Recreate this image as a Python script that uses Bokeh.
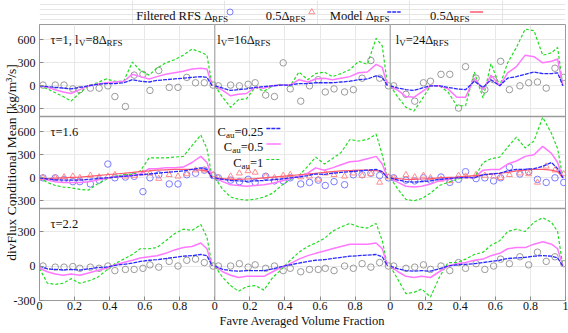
import math, json
from bokeh.plotting import figure
from bokeh.layouts import column
from bokeh.models import Range1d, FixedTicker, CustomJSTickFormatter, Span
from bokeh.core.properties import value
from bokeh.embed import file_html
from bokeh.resources import INLINE

# ---------------- data ----------------
x_line = [0.0, 0.045, 0.09, 0.135, 0.18, 0.23, 0.28, 0.33, 0.38, 0.43, 0.48, 0.53,
          0.575, 0.625, 0.67, 0.72, 0.77, 0.82, 0.87, 0.92, 0.955, 0.985]
x_pts = [0.02, 0.09, 0.14, 0.19, 0.23, 0.29, 0.34, 0.39, 0.43, 0.49,
         0.54, 0.59, 0.63, 0.68, 0.74, 0.79, 0.84, 0.89, 0.94, 0.99]

# row 0 : tau = 1
g00 = [0, -40, -90, -140, -200, -90, 0, 40, 90, 60, 60, 310, 200, 140, 230, 300, 340, 400, 480, 440, 400, 0]
m00 = [0, -20, -50, -80, -100, -50, 0, 20, 40, 50, 60, 150, 120, 90, 120, 150, 170, 190, 220, 230, 220, 0]
b00 = [0, -10, -20, -30, -40, -20, 0, 20, 30, 30, 40, 80, 60, 50, 70, 80, 90, 100, 110, 120, 110, 0]
c00 = [10, 10, 10, -40, -50, -30, -30, 0, -140, -270, 140, 150, -60, 200, -20, -20, 110, 40, 40, 10]

g01 = [0, -150, -280, -180, -170, -20, -70, 0, 20, 0, 180, 80, 160, 180, 120, 160, 210, 320, 280, 620, 520, 0]
m01 = [0, -60, -130, -110, -100, -20, -30, 0, 10, 10, 80, 50, 90, 100, 80, 100, 120, 170, 180, 280, 240, 0]
b01 = [0, -30, -60, -50, -40, -20, -10, 0, 10, 10, 30, 30, 40, 40, 40, 50, 60, 80, 90, 130, 110, 0]
c01 = [0, 10, 0, 20, 40, -120, -140, 300, -40, -200, 0, 80, -80, -40, -80, -50, 100, 330, 100, 0]

g02 = [0, -150, -280, -330, -180, 0, 0, -80, -260, -260, 180, -160, 290, 0, 300, 500, 740, 720, 400, 430, 500, 0]
m02 = [0, -60, -140, -150, -80, 0, 0, -40, -150, -150, 100, -50, 140, 0, 170, 250, 400, 380, 300, 320, 350, 0]
b02 = [0, -30, -50, -60, -30, 0, 0, -20, -40, -50, 60, -20, 80, 0, 100, 120, 150, 180, 160, 160, 170, 0]
c02 = [0, -110, -200, 40, 60, 150, 150, -290, 250, 100, -50, 80, 320, -50, 0, 40, 50, -30, 230, 110]

# row 1 : tau = 1.6
g10 = [0, -60, -100, -120, -130, -150, -160, -80, -20, 20, 40, 50, 90, 260, 260, 260, 270, 280, 420, 560, 380, 0]
m10 = [0, -30, -50, -60, -60, -60, -50, -30, -10, 10, 20, 30, 50, 120, 120, 130, 130, 140, 200, 280, 200, 0]
b10 = [0, -15, -25, -30, -30, -30, -20, -10, 0, 10, 20, 30, 40, 50, 60, 70, 80, 90, 110, 130, 110, 0]
r10 = [0, -10, -5, 0, 5, 10, 20, 30, 40, 50, 60, 70, 80, 90, 100, 105, 110, 110, 110, 100, 90, 0]
c10 = [0, 0, -20, -50, -50, -80, -30, 180, 0, 10, 20, -180, 0, 40, -80, -80, 40, 60, 100, 30]
t10 = [0, 0, 10, 20, 0, 30, 10, 20, 40, 20, 30, 60, 60, -10, 40, 20, 50, 100, 100, 40]

g11 = [0, -150, -250, -280, -290, -280, -250, -200, -100, -20, 30, 150, 270, 180, 250, 330, 500, 480, 500, 570, 300, 0]
m11 = [0, -50, -90, -100, -110, -100, -90, -70, -40, -10, 20, 60, 130, 100, 130, 170, 210, 220, 250, 280, 180, 0]
b11 = [0, -20, -35, -40, -45, -40, -35, -25, -15, 0, 10, 30, 50, 45, 60, 70, 80, 90, 100, 110, 80, 0]
r11 = [0, -10, -20, -20, -15, -10, 0, 10, 20, 30, 40, 50, 60, 70, 80, 90, 95, 100, 100, 95, 80, 0]
c11 = [0, -30, -50, -20, -60, 20, -40, -40, 0, -80, -60, -30, -100, -50, -90, 40, 40, 60, 30, 0]
t11 = [0, 20, 60, 90, 70, 20, 0, 30, 40, 10, 20, -20, 60, 40, 20, 60, 30, 50, -60, 10]

g12 = [0, -150, -280, -300, -270, -200, -100, -60, -20, 20, 0, 200, 250, 270, 400, 530, 390, 480, 790, 580, 380, 0]
m12 = [0, -60, -110, -120, -110, -80, -40, -20, 0, 10, 0, 100, 110, 110, 180, 220, 280, 300, 410, 320, 200, 0]
b12 = [0, -30, -50, -55, -50, -40, -20, -10, 0, 5, 0, 40, 50, 60, 90, 110, 110, 120, 150, 200, 120, 0]
r12 = [0, -10, -20, -20, -15, -10, 0, 5, 10, 20, 30, 40, 50, 60, 70, 90, 100, 110, 110, 100, 80, 0]
c12 = [0, -30, -40, 0, -30, 10, -60, -20, 80, -10, 0, -40, 0, 140, 50, 80, -20, -60, 0, -60]
t12 = [0, 40, 10, 30, 0, -20, -40, 30, 20, 40, 30, 20, 0, 40, 60, 50, -60, 150, 100, 50]

# row 2 : tau = 2.2
g20 = [-20, -150, -160, -150, -110, -150, -130, -100, -40, 20, 60, 100, 150, 150, 160, 220, 280, 320, 310, 360, 250, 0]
m20 = [-20, -50, -70, -80, -70, -80, -60, -40, -20, 10, 30, 50, 70, 80, 90, 110, 140, 160, 170, 200, 150, 0]
b20 = [0, -25, -30, -35, -30, -35, -25, -15, -10, 5, 15, 25, 40, 50, 55, 65, 75, 85, 90, 100, 90, 0]
c20 = [0, -10, -10, -5, -20, -10, -20, 0, -40, -30, -30, -20, 10, -10, 40, 0, 50, 60, 30, 0]

g21 = [0, -100, -170, -220, -180, -170, -210, -100, -30, 50, 120, 170, 200, 240, 300, 340, 370, 340, 330, 370, 220, 0]
m21 = [0, -50, -80, -100, -90, -90, -90, -50, -10, 20, 60, 90, 110, 130, 150, 170, 190, 190, 190, 200, 150, 0]
b21 = [0, -30, -40, -45, -40, -40, -40, -25, -5, 10, 25, 40, 50, 55, 65, 75, 85, 90, 95, 100, 80, 0]
c21 = [0, 0, 20, -10, 10, -20, 0, -40, -20, -50, -30, -30, -20, -40, 0, -20, 20, -10, 30, 0]

g22 = [0, -120, -240, -230, -200, -270, -100, 30, 30, 60, 100, 120, 180, 220, 300, 320, 300, 380, 420, 380, 300, 0]
m22 = [0, -50, -90, -100, -90, -100, -50, 0, 20, 30, 50, 60, 90, 110, 150, 160, 160, 190, 210, 190, 150, 0]
b22 = [0, -25, -40, -45, -40, -45, -25, 0, 10, 15, 20, 30, 40, 50, 65, 70, 75, 85, 90, 85, 70, 0]
c22 = [0, -20, -10, 10, -30, 0, -40, 30, -20, 20, -30, 0, 60, 20, 80, 10, 120, 40, 80, 20]

row_ranges = [(-400, 800), (-400, 800), (-300, 500)]
row_yticks = [[-300, 0, 300, 600], [-300, 0, 300, 600], [-300, 0, 300]]
x_ticks = [round(i * 0.2, 1) for i in range(16)]
x_tick_labels = ["0", "0.2", "0.4", "0.6", "0.8"] * 3 + ["1"]

panel_titles = {
    (0, 0): [("τ=1, l", 0), ("V", 1), ("=8Δ", 0), ("RFS", 1)],
    (0, 1): [("l", 0), ("V", 1), ("=16Δ", 0), ("RFS", 1)],
    (0, 2): [("l", 0), ("V", 1), ("=24Δ", 0), ("RFS", 1)],
    (1, 0): [("τ=1.6", 0)],
    (2, 0): [("τ=2.2", 0)],
}
cau_values = ["0.25", "0.5", "1"]
legend_items = [[("Filtered RFS Δ", 0), ("RFS", 1)], [("0.5Δ", 0), ("RFS", 1)],
                [("Model Δ", 0), ("RFS", 1)], [("0.5Δ", 0), ("RFS", 1)]]
y_title = "divFlux Conditional Mean [kg/m³/s]"
x_title = "Favre Averaged Volume Fraction"

panels = [
    [(g00, m00, b00, c00, None, None), (g01, m01, b01, c01, None, None), (g02, m02, b02, c02, None, None)],
    [(g10, m10, b10, c10, r10, t10), (g11, m11, b11, c11, r11, t11), (g12, m12, b12, c12, r12, t12)],
    [(g20, m20, b20, c20, None, None), (g21, m21, b21, c21, None, None), (g22, m22, b22, c22, None, None)],
]

# ---------------- style ----------------
FONT = "Liberation Serif"
GREY = "#9a9a9a"
TICK = "#8a8a8a"
GRIDC = "#e8e8e8"
C_GREEN = "#22dd22"
C_MAG = "#ff78ff"
C_BLUE = "#2a2aff"
C_RED = "#ff5a6e"
C_CGREY = "#9a9a9a"
C_CBLUE = "#7c7cff"
C_TRI = "#ff8c8c"
TXT = "#111111"

FW, FH = 526, 276
LB, RB, BB, TOPH = 39, 3, 33, 24
NR, NC = 3, 3
PW, PH = FW / NC, FH / NR

W = {' ': 250, ',': 250, '.': 250, '=': 564, 'A': 722, 'C': 667, 'F': 556, 'M': 889,
     'R': 667, 'S': 556, 'V': 722, 'a': 444, 'd': 500, 'e': 444, 'i': 278, 'l': 278,
     'o': 500, 'r': 333, 't': 278, 'u': 500, 'τ': 440, 'Δ': 612}


def tw(s, size):
    return sum(W.get(ch, 500) for ch in s) * size / 1000.0


def rich(p, x, y, segs, fs=12.0, align="left", x_off=0.0, y_off=0.0, **kw):
    """segs: list of (text, is_sub); y_off = baseline offset in px (down)."""
    sfs = round(fs * 0.72, 1)
    widths = [tw(t, sfs if s else fs) for t, s in segs]
    pos = x_off - (sum(widths) if align == "right" else 0.0)
    for (t, s), w in zip(segs, widths):
        p.text(x=[x], y=[y], text=[t], x_offset=pos, y_offset=y_off + (3 if s else 0),
               text_font=value(FONT), text_font_size=f"{sfs if s else fs}px",
               text_baseline="alphabetic", text_align="left", text_color=TXT, **kw)
        pos += w


# ---------------- main figure ----------------
main = figure(frame_width=FW, frame_height=FH, x_range=Range1d(0, NC), y_range=Range1d(0, NR),
              x_axis_location="below", y_axis_location="left",
              min_border_left=LB, min_border_right=RB, min_border_top=0, min_border_bottom=BB,
              toolbar_location=None, output_backend="svg",
              outline_line_color=GREY, outline_line_width=1,
              background_fill_color="white", border_fill_color="white")

extra = {}
for r, (lo, hi) in enumerate(row_ranges):
    span = hi - lo
    k = NR - 1 - r
    extra[f"r{r}"] = Range1d(lo - k * span, hi + r * span)
main.extra_y_ranges = extra

# x axis (three panels side by side, each 0..1)
xa = main.xaxis[0]
xa.ticker = FixedTicker(ticks=x_ticks)
xa.formatter = CustomJSTickFormatter(code="const labels = %s; return labels[Math.round(tick*5)];" % json.dumps(x_tick_labels))
xa.major_tick_in = 4
xa.major_tick_out = 0
xa.minor_tick_line_color = None
xa.major_tick_line_color = TICK
xa.axis_line_color = GREY
xa.major_label_standoff = 1
xa.major_label_text_font = FONT
xa.major_label_text_font_size = "12px"
xa.major_label_text_color = TXT
xa.axis_label = x_title
xa.axis_label_text_font = FONT
xa.axis_label_text_font_size = "12.5px"
xa.axis_label_text_font_style = "normal"
xa.axis_label_text_color = TXT
xa.axis_label_standoff = 1

# y axis: one axis carrying the three row scales
ypos, ylab = [], []
for r, (lo, hi) in enumerate(row_ranges):
    for v in row_yticks[r]:
        ypos.append((NR - 1 - r) + (v - lo) / (hi - lo))
        ylab.append(str(v))
ya = main.yaxis[0]
ya.ticker = FixedTicker(ticks=ypos)
ya.formatter = CustomJSTickFormatter(code=(
    "const P = %s; const L = %s; let b = 0;"
    "for (let i = 1; i < P.length; i++) { if (Math.abs(P[i]-tick) < Math.abs(P[b]-tick)) b = i; }"
    "return L[b];") % (json.dumps(ypos), json.dumps(ylab)))
ya.major_tick_in = 4
ya.major_tick_out = 0
ya.minor_tick_line_color = None
ya.major_tick_line_color = TICK
ya.axis_line_color = GREY
ya.major_label_standoff = 4
ya.major_label_text_font = FONT
ya.major_label_text_font_size = "12px"
ya.major_label_text_color = TXT
ya.axis_label = y_title
ya.axis_label_text_font = FONT
ya.axis_label_text_font_size = "13.5px"
ya.axis_label_text_font_style = "normal"
ya.axis_label_text_color = TXT
ya.axis_label_standoff = -8

main.xgrid.grid_line_color = GRIDC
main.ygrid.grid_line_color = GRIDC

for c in range(1, NC):
    main.add_layout(Span(location=c, dimension="height", line_color=GREY, line_width=1))
for r in range(1, NR):
    main.add_layout(Span(location=r, dimension="width", line_color=GREY, line_width=1.5))

for r in range(NR):
    yr = f"r{r}"
    for c in range(NC):
        g, m, b, circ, red, tri = panels[r][c]
        xl = [v + c for v in x_line]
        xp = [v + c for v in x_pts]
        main.scatter(xp, circ, marker="circle", size=6.5, fill_color=None,
                     line_color=(C_CBLUE if red is not None else C_CGREY), line_width=1, y_range_name=yr)
        if tri is not None:
            main.scatter(xp, tri, marker="triangle", size=6, fill_color=None,
                         line_color=C_TRI, line_width=1, y_range_name=yr)
        main.line(xl, g, line_color=C_GREEN, line_width=1.2, line_dash="3 2", y_range_name=yr)
        main.line(xl, m, line_color=C_MAG, line_width=1.5, y_range_name=yr)
        if red is not None:
            main.line(xl, red, line_color=C_RED, line_width=1.2, y_range_name=yr)
        main.line(xl, b, line_color=C_BLUE, line_width=1.3, line_dash="4 1", y_range_name=yr)

# panel titles
title_xoff = {0: 11, 1: 2.5, 2: 5.5}
for (r, c), segs in panel_titles.items():
    lo, hi = row_ranges[r]
    rich(main, c, hi, segs, fs=12.5, x_off=title_xoff[c], y_off=15.0, y_range_name=f"r{r}")

# inner legend (row 1, col 1)
lr, lc = 1, 1
lo, hi = row_ranges[lr]
upp = (hi - lo) / PH
cau_styles = [(C_BLUE, 1.3, "4 1"), (C_MAG, 1.5, "solid"), (C_GREEN, 1.2, "3 2")]
for i, (val, (col, lw, dash)) in enumerate(zip(cau_values, cau_styles)):
    cy = 11 + 15.5 * i
    rich(main, lc, hi, [("C", 0), ("au", 1), ("=" + val, 0)], fs=12.5, align="right",
         x_off=48.5, y_off=cy + 4.3, y_range_name=f"r{lr}")
    main.line([lc + 51.5 / PW, lc + 66 / PW], [hi - (cy + 1) * upp] * 2,
              line_color=col, line_width=lw, line_dash=dash, y_range_name=f"r{lr}")

# ---------------- top legend ----------------
TW = LB + FW + RB
leg = figure(width=TW, height=TOPH, x_range=Range1d(0, TW), y_range=Range1d(0, TOPH),
             x_axis_location=None, y_axis_location=None, min_border=0,
             toolbar_location=None, output_backend="svg", outline_line_color=None,
             background_fill_color="white", border_fill_color="white")
mid = TOPH - 11.5
base = mid - 4.2
LFS = 12.6
text_x = [104.5, 244.4, 313.4, 421.7]
for tx, segs in zip(text_x, legend_items):
    rich(leg, tx, base, segs, fs=LFS)
leg.scatter([205.8], [mid], marker="circle", size=6, fill_color=None, line_color=C_CBLUE, line_width=1)
leg.scatter([294], [mid], marker="triangle", size=6, fill_color=None, line_color=C_TRI, line_width=1)
leg.line([375.5, 390], [mid, mid], line_color=C_BLUE, line_width=1.3, line_dash="4 1")
leg.line([465, 479], [mid, mid], line_color=C_RED, line_width=1.3)

layout = column(leg, main, spacing=0)
open("out.html", "w").write(file_html(layout, INLINE))
